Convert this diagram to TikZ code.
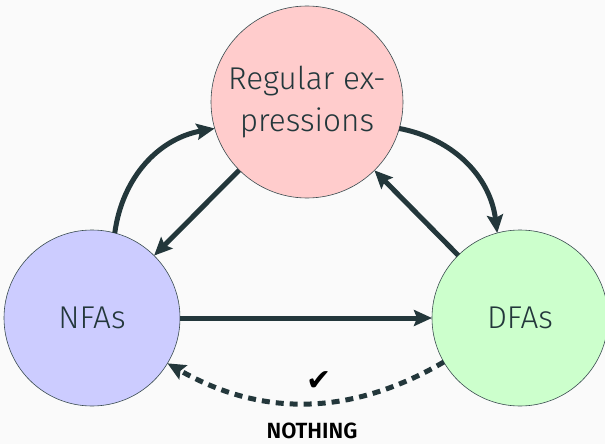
\documentclass[tikz,border=0pt]{standalone}
\usepackage{fontspec}
\setmainfont{Fira Sans}[UprightFont=* Light]
\newfontfamily\symfont{DejaVu Sans}
\usepackage{tikz}
\usetikzlibrary{arrows.meta,positioning}
\definecolor{mDarkTeal}{HTML}{23373B}
\definecolor{bgGray}{HTML}{FAFAFA}
\definecolor{reRed}{HTML}{FFCCCC}
\definecolor{nfaBlue}{HTML}{CCCCFF}
\definecolor{dfaGreen}{HTML}{CCFFCC}

\begin{document}
\begin{tikzpicture}[x=1pt,y=-1pt]
	\tikzstyle{every node}=[font=\fontsize{31.5}{42}\selectfont,text=mDarkTeal];
	\tikzstyle{state}=[draw=mDarkTeal!90,circle,line width=0.6pt,align=center,inner sep=0pt,outer sep=0pt];
	\tikzstyle{pth}=[draw=mDarkTeal,line width=5pt,-{Stealth[length=18pt,width=16pt,inset=3pt]}];
	\fill[bgGray] (0,0) rectangle (605,444);
	\useasboundingbox (0,0) rectangle (605,444);
	% the three kinds of automata / expressions
	\node (regex) [state,fill=reRed,minimum size=192pt] at (307,102) {Regular ex-\\pressions};
	\node (nfa) [state,fill=nfaBlue,minimum size=176pt] at (92,318) {NFAs};
	\node (dfa) [state,fill=dfaGreen,minimum size=176pt] at (520,318) {DFAs};
	% conversions
	\draw[pth] (nfa.75) to[bend left=36] (regex.196);
	\draw[pth] (regex) -- (nfa);
	\draw[pth] (regex.344) to[bend left=36] (dfa.105);
	\draw[pth] (dfa) -- (regex);
	\draw[pth] (nfa) -- (dfa);
	\draw[pth,dash pattern=on 8pt off 6pt] (dfa.210) to[bend left=30] (nfa.329);
	% handwritten remark
	\node (tick) [text=black] at (319,381) {\symfont\fontsize{30}{30}\selectfont\char"2714};
	\node (nothing) [text=black,inner sep=0pt] at (312,431) {\fontsize{22}{22}\selectfont\bfseries NOTHING};
\end{tikzpicture}
\end{document}
